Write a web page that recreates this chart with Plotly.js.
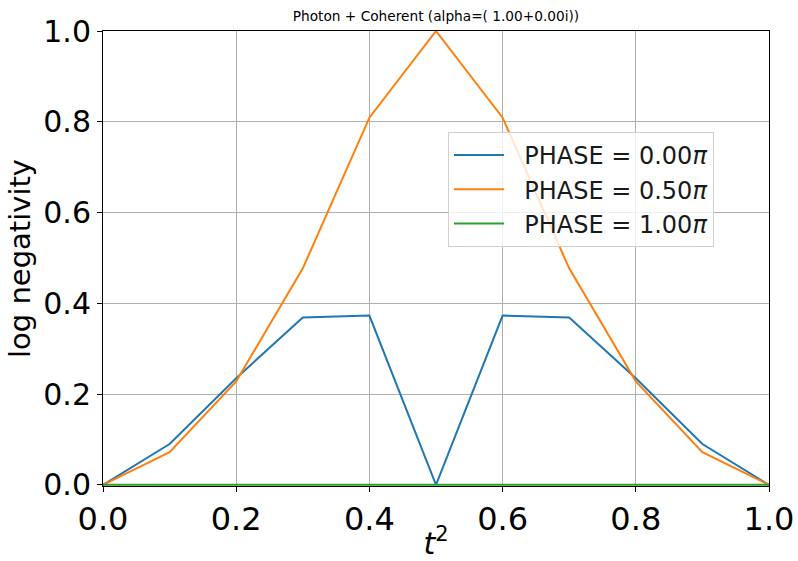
<!DOCTYPE html>
<html>
<head>
<meta charset="utf-8">
<script src="https://cdn.plot.ly/plotly-3.0.1.min.js"></script>
<style>html,body{margin:0;padding:0;background:#fff;}#chart{width:798px;height:561px;}</style>
</head>
<body>
<div id="chart"></div>
<script>
const tSquared = [0.0, 0.1, 0.2, 0.3, 0.4, 0.5, 0.6, 0.7, 0.8, 0.9, 1.0];
const phase000 = [0.0, 0.09, 0.235, 0.369, 0.373, 0.0, 0.373, 0.369, 0.235, 0.09, 0.0];
const phase050 = [0.0, 0.072, 0.228, 0.477, 0.809, 1.0, 0.809, 0.477, 0.228, 0.072, 0.0];
const phase100 = [0.0, 0.0, 0.0, 0.0, 0.0, 0.0, 0.0, 0.0, 0.0, 0.0, 0.0];
const seriesNames = ["PHASE = 0.00<i>π</i>", "PHASE = 0.50<i>π</i>", "PHASE = 1.00<i>π</i>"];
const tickVals = [0, 0.2, 0.4, 0.6, 0.8, 1.0];
const tickText = ["0.0", "0.2", "0.4", "0.6", "0.8", "1.0"];

const colors = ["#1f77b4", "#ff7f0e", "#2ca02c"];
const ys = [phase000, phase050, phase100];
const traces = ys.map((y, i) => ({
  x: tSquared, y: y, type: "scatter", mode: "lines",
  name: "\u00a0\u00a0" + seriesNames[i], legendgroup: "g" + i,
  line: {color: colors[i], width: 2},
  cliponaxis: false
}));

const font = "DejaVu Sans, sans-serif";
const layout = {
  width: 798, height: 561,
  margin: {l: 103, r: 29, t: 31, b: 75},
  paper_bgcolor: "#ffffff", plot_bgcolor: "#ffffff",
  font: {family: font, color: "#000000"},
  title: {text: "Photon + Coherent (alpha=( 1.00+0.00i))", font: {family: font, size: 13.7, color: "#000"},
          x: 0.5, xref: "paper", xanchor: "center", y: 1 - 16/561, yref: "container", yanchor: "middle"},
  xaxis: {
    range: [0, 1], tickvals: tickVals, ticktext: tickText,
    showgrid: true, gridcolor: "#b0b0b0", gridwidth: 1,
    showline: true, linecolor: "#000", linewidth: 1, mirror: true,
    ticks: "outside", ticklen: 5, tickcolor: "#000", tickwidth: 1,
    tickfont: {family: font, size: 32, color: "#000"},
    zeroline: false, layer: "below traces",
    title: {text: "<i>t</i><sup>2</sup>", font: {family: font, size: 30, color: "#000"}, standoff: 8}
  },
  yaxis: {
    range: [-0.0025, 1], tickvals: tickVals, ticktext: tickText,
    showgrid: true, gridcolor: "#b0b0b0", gridwidth: 1,
    showline: true, linecolor: "#000", linewidth: 1, mirror: true,
    ticks: "outside", ticklen: 5, tickcolor: "#000", tickwidth: 1,
    tickfont: {family: font, size: 30, color: "#000"},
    zeroline: false,
    title: {text: "log negativity", font: {family: font, size: 29, color: "#000"}, standoff: 4}
  },
  showlegend: true,
  legend: {
    x: 0.518, y: 0.778, xanchor: "left", yanchor: "top",
    bgcolor: "rgba(255,255,255,0.8)", bordercolor: "#d0d0d0", borderwidth: 1,
    font: {family: font, size: 24, color: "#1a1a1a"},
    traceorder: "grouped", tracegroupgap: 0, itemwidth: 50
  }
};

Plotly.newPlot("chart", traces, layout, {displayModeBar: false, staticPlot: true});
</script>
</body>
</html>
